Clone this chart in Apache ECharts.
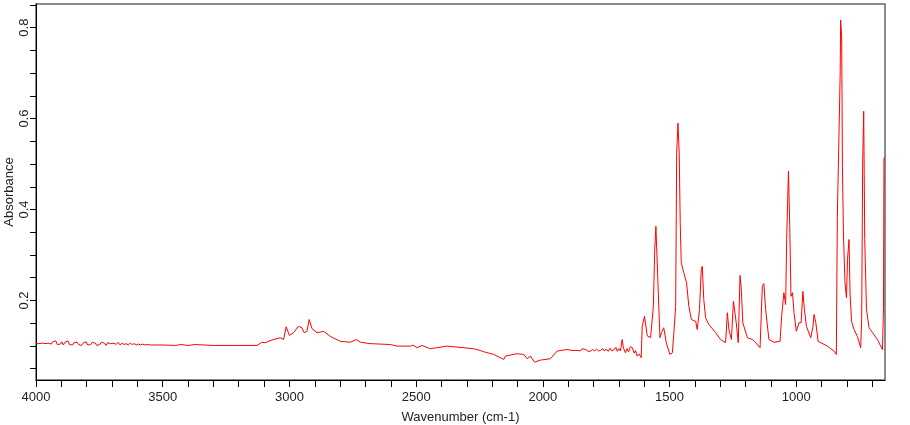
<!DOCTYPE html>
<html>
<head>
<meta charset="utf-8">
<title>Absorbance spectrum</title>
<script src="https://cdn.jsdelivr.net/npm/echarts@6/dist/echarts.min.js"></script>
<style>
  html, body { margin: 0; padding: 0; background: #fff; }
  #chart { width: 910px; height: 425px; }
</style>
</head>
<body>
<div id="chart"></div>
<script>
// wavenumber (cm-1)
const wavenumber = [
  4000, 3990, 3975, 3960, 3952, 3946, 3940, 3934, 3928, 3922, 3916, 3910, 3904, 3898, 3892, 3886,
  3880, 3874, 3868, 3862, 3856, 3850, 3844, 3838, 3832, 3826, 3820, 3814, 3808, 3802, 3796, 3790,
  3784, 3778, 3772, 3766, 3760, 3754, 3748, 3742, 3736, 3730, 3724, 3718, 3712, 3706, 3700, 3692,
  3684, 3676, 3668, 3660, 3652, 3644, 3636, 3628, 3620, 3612, 3604, 3596, 3588, 3580, 3570, 3560,
  3548, 3538, 3500, 3450, 3428, 3425, 3400, 3372, 3369, 3300, 3200, 3128,
  3109, 3096, 3069, 3036, 3023, 3013, 3000, 2984, 2964, 2951, 2942, 2931, 2922, 2911, 2891, 2865,
  2839, 2799, 2760, 2736, 2720, 2681, 2602, 2575, 2523, 2512, 2496, 2477, 2444, 2378, 2312, 2273,
  2253, 2233, 2194, 2154, 2148, 2102, 2075, 2062, 2049, 2033, 2010, 1970, 1944, 1904, 1885, 1865,
  1858, 1852, 1845, 1838, 1830, 1822, 1812, 1804, 1796, 1788, 1780, 1772, 1764, 1758, 1750, 1742,
  1735, 1728, 1720, 1712, 1706, 1700, 1694, 1687, 1682, 1674, 1668, 1662, 1655, 1647, 1640, 1634,
  1628, 1620, 1612, 1608, 1599, 1588, 1575, 1564, 1559, 1554, 1546, 1538, 1532, 1523, 1513, 1499,
  1489, 1483, 1476, 1472, 1467, 1462, 1458, 1454, 1444, 1433, 1424, 1414, 1397, 1391, 1382, 1375,
  1371, 1365, 1358, 1345, 1318, 1299, 1279, 1272, 1266, 1256, 1248, 1242, 1237, 1229, 1222, 1217,
  1211, 1193, 1173, 1160, 1143, 1134, 1128, 1121, 1108, 1088, 1064, 1058, 1049, 1042, 1038, 1031,
  1026, 1021, 1015, 1009, 1000, 989, 981, 974, 968, 960, 943, 934, 930, 923, 914, 877,
  851, 842, 838, 831, 827, 825, 821, 818, 814, 808, 802, 798, 792, 788, 782, 772,
  759, 746, 742, 738, 734, 730, 723, 713, 699, 680, 667, 660, 656, 654, 650
];

const absorbance = [
  0.105, 0.105, 0.106, 0.105, 0.106, 0.108, 0.104, 0.109, 0.105, 0.111, 0.103, 0.107, 0.104, 0.109, 0.102, 0.108,
  0.105, 0.111, 0.103, 0.106, 0.102, 0.107, 0.104, 0.108, 0.103, 0.105, 0.101, 0.106, 0.104, 0.109, 0.102, 0.106,
  0.103, 0.108, 0.104, 0.106, 0.101, 0.105, 0.103, 0.108, 0.104, 0.106, 0.101, 0.107, 0.103, 0.105, 0.102, 0.106,
  0.103, 0.108, 0.102, 0.106, 0.103, 0.105, 0.102, 0.106, 0.103, 0.105, 0.102, 0.104, 0.102, 0.104, 0.102, 0.103,
  0.102, 0.102, 0.102, 0.101, 0.103, 0.101, 0.101, 0.103, 0.101, 0.101, 0.101, 0.101,
  0.108, 0.107, 0.113, 0.118, 0.114, 0.142, 0.123, 0.129, 0.143, 0.140, 0.129, 0.132, 0.158, 0.138, 0.129, 0.132,
  0.121, 0.110, 0.108, 0.114, 0.108, 0.105, 0.103, 0.0995, 0.0995, 0.1017, 0.096, 0.101, 0.0938, 0.0995, 0.096, 0.0938,
  0.0907, 0.0872, 0.0812, 0.0703, 0.0775, 0.0828, 0.0812, 0.0718, 0.0775, 0.0643, 0.0687, 0.0718, 0.0885, 0.0922, 0.090, 0.090,
  0.093, 0.089, 0.0938, 0.090, 0.092, 0.088, 0.0885, 0.092, 0.089, 0.093, 0.089, 0.090, 0.094, 0.089, 0.093, 0.088,
  0.095, 0.089, 0.0907, 0.097, 0.088, 0.094, 0.089, 0.114, 0.095, 0.085, 0.094, 0.087, 0.098, 0.096, 0.084, 0.090,
  0.0775, 0.082, 0.074, 0.143, 0.165, 0.122, 0.118, 0.187, 0.305, 0.363, 0.239, 0.118, 0.129, 0.140, 0.107, 0.0812,
  0.085, 0.129, 0.187, 0.524, 0.590, 0.524, 0.370, 0.283, 0.261, 0.239, 0.187, 0.158, 0.154, 0.136, 0.180, 0.268,
  0.275, 0.202, 0.162, 0.147, 0.129, 0.114, 0.107, 0.173, 0.136, 0.114, 0.198, 0.202, 0.151, 0.107, 0.255, 0.224,
  0.151, 0.118, 0.114, 0.107, 0.096, 0.231, 0.237, 0.180, 0.114, 0.108, 0.110, 0.165, 0.217, 0.191, 0.334, 0.484,
  0.367, 0.209, 0.217, 0.173, 0.132, 0.151, 0.151, 0.220, 0.180, 0.143, 0.118, 0.143, 0.169, 0.151, 0.110, 0.0995,
  0.0885, 0.0812, 0.385, 0.385, 0.696, 0.817, 0.780, 0.495, 0.348, 0.239, 0.206, 0.290, 0.334, 0.217, 0.154, 0.136,
  0.121, 0.096, 0.158, 0.509, 0.616, 0.334, 0.180, 0.140, 0.129, 0.114, 0.0995, 0.092, 0.184, 0.513, 0.515
];

// axis ticks and labels
const xTicks = [4000, 3900, 3800, 3700, 3600, 3500, 3400, 3300, 3200, 3100, 3000, 2900, 2800, 2700, 2600, 2500,
  2400, 2300, 2200, 2100, 2000, 1900, 1800, 1700, 1600, 1500, 1400, 1300, 1200, 1100, 1000, 900, 800, 700];
const xLabels = [4000, 3500, 3000, 2500, 2000, 1500, 1000];
const yTicks = [0.05, 0.1, 0.15, 0.2, 0.25, 0.3, 0.35, 0.4, 0.45, 0.5, 0.55, 0.6, 0.65, 0.7, 0.75, 0.8, 0.85];
const yLabels = [0.2, 0.4, 0.6, 0.8];

const spectrum = wavenumber.map((w, i) => [w, absorbance[i]]);

const myChart = echarts.init(document.getElementById('chart'), null, { renderer: 'canvas' });

const labelFont = {
  fontFamily: 'Liberation Sans, Arial, sans-serif',
  fontSize: 13,
  color: '#222'
};

const option = {
  animation: false,
  grid: {
    left: 36,
    right: 25,
    top: 4,
    bottom: 45,
    outerBoundsMode: 'none',
    containLabel: false,
    show: true,
    borderColor: '#666',
    borderWidth: 1.5
  },
  xAxis: {
    type: 'value',
    inverse: true,
    min: 650,
    max: 4000,
    name: 'Wavenumber (cm-1)',
    nameLocation: 'middle',
    nameGap: 31,
    nameMoveOverlap: false,
    nameTextStyle: labelFont,
    axisLine: { show: true, onZero: false, lineStyle: { color: '#000', width: 1 } },
    axisTick: { show: true, length: 7, customValues: xTicks, lineStyle: { color: '#000' } },
    axisLabel: { ...labelFont, margin: 11, customValues: xLabels, formatter: v => String(v) },
    splitLine: { show: false }
  },
  yAxis: {
    type: 'value',
    min: 0.025,
    max: 0.852,
    name: 'Absorbance',
    nameLocation: 'middle',
    nameGap: 20,
    nameMoveOverlap: false,
    nameTextStyle: labelFont,
    axisLine: { show: true, onZero: false, lineStyle: { color: '#000', width: 1 } },
    axisTick: { show: true, length: 6, customValues: yTicks, lineStyle: { color: '#000' } },
    axisLabel: {
      ...labelFont,
      rotate: 90,
      margin: 5,
      customValues: yLabels,
      formatter: v => v.toFixed(1)
    },
    splitLine: { show: false }
  },
  series: [
    {
      type: 'line',
      data: spectrum,
      symbol: 'none',
      lineStyle: { color: '#ff0000', width: 1 },
      itemStyle: { color: '#ff0000' }
    }
  ]
};

myChart.setOption(option);
</script>
</body>
</html>
